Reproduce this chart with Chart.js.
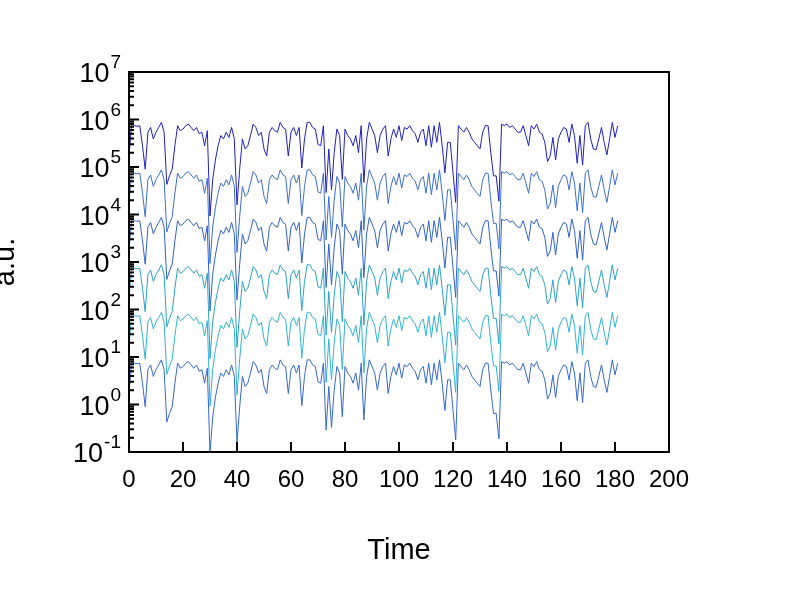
<!DOCTYPE html>
<html>
<head>
<script src="https://cdn.jsdelivr.net/npm/chart.js@4"></script>
<style>body{margin:0;background:#fff}</style>
</head>
<body>
<canvas id="chart" width="800" height="600"></canvas>
<script>
// bottom trace (decade 10^0..10^1); the others repeat it one decade higher each
const base = [1.7,8,7.4,7.2,7.4,2.8,0.9,5.4,6.8,3.9,5.4,6.8,8.7,5.4,0.43,0.65,0.9,2.8,7.4,5.8,
  6.3,7.4,8,6.8,5.8,6.8,5,5.4,2.8,5.8,0.093,0.55,1.4,2.8,4.6,3.9,5.4,4.2,6.8,3.9,
  0.16,0.9,3.9,2.4,2.8,4.6,8,6.8,4.6,5.4,2.4,1.7,5.4,6.8,5.8,5.4,8.7,6.8,6.3,1.7,
  5.4,6.8,4.6,6.8,0.95,3.9,8.7,8.7,6.8,6.3,3,2.8,7.4,0.29,2.4,0.33,2,6.3,4.6,0.55,
  6.3,4.6,3.9,2.8,4.6,2,7.4,0.47,3.9,8.7,6.3,4.6,2,4.6,6.3,7.4,1.7,3.9,6.3,4.2,
  7.4,3.6,6.8,6.3,7.4,5.8,5,3.3,5.4,6.3,2.8,7.4,2.6,7.4,3.3,8.7,2.8,0.75,3.3,3.3,
  0.75,0.18,7.4,6.3,5.4,6.8,5.4,3.9,3.3,2.8,2.4,5.4,7.4,7.4,2,0.65,0.65,0.19,8,7.4,
  8,6.8,7.4,6.3,5.4,5.4,7.4,4.6,2.8,7.4,6.3,8,5.4,5,3.3,1.3,1.7,4.2,1.4,3.9,
  5.4,6.8,6.3,3.3,8,4.6,1.2,4.6,1.1,7.4,8.7,3.9,2.4,2.3,3.9,6.8,3.3,1.8,3.9,8.7,
  4.2,7.4];
const decades = [100000, 10000, 1000, 100, 10, 1];
const colors = ['#1f1fc4', '#3a6fd2', '#2f62cf', '#2aa3c9', '#30b3d6', '#3368d4'];
const xTicks = [0, 20, 40, 60, 80, 100, 120, 140, 160, 180, 200];
const yExponents = [-1, 0, 1, 2, 3, 4, 5, 6, 7];

const datasets = decades.map((d, i) => ({
  data: base.map((v, x) => ({x: x, y: v * d})),
  borderColor: colors[i], borderWidth: 1, pointRadius: 0, fill: false, tension: 0
}));

const frame = {
  id: 'frame',
  afterDraw(chart) {
    const {ctx, chartArea: a, scales: {x, y}} = chart;
    ctx.save();
    ctx.strokeStyle = '#000'; ctx.lineWidth = 2;
    ctx.strokeRect(a.left, a.top, a.right - a.left, a.bottom - a.top);
    ctx.beginPath();
    xTicks.forEach(t => { const px = x.getPixelForValue(t); ctx.moveTo(px, a.bottom); ctx.lineTo(px, a.bottom - 10); });
    yExponents.forEach(e => {
      const py = y.getPixelForValue(Math.pow(10, e));
      ctx.moveTo(a.left, py); ctx.lineTo(a.left + 10, py);
      if (e < 7) for (let m = 2; m < 10; m++) {
        const pm = y.getPixelForValue(m * Math.pow(10, e));
        ctx.moveTo(a.left, pm); ctx.lineTo(a.left + 5, pm);
      }
    });
    ctx.stroke();
    ctx.fillStyle = '#000'; ctx.textBaseline = 'alphabetic'; ctx.textAlign = 'right';
    yExponents.forEach(e => {
      const py = y.getPixelForValue(Math.pow(10, e));
      ctx.font = '19px Arial, "Liberation Sans"';
      const ew = ctx.measureText(String(e)).width;
      ctx.fillText(String(e), a.left - 8, py - 4);
      ctx.font = '27px Arial, "Liberation Sans"';
      ctx.fillText('10', a.left - 9 - ew, py + 10);
    });
    ctx.font = '29px Arial, "Liberation Sans"';
    ctx.translate(14, 262); ctx.rotate(-Math.PI / 2);
    ctx.textAlign = 'center';
    ctx.fillText('a.u.', 0, 0);
    ctx.restore();
  }
};

new Chart(document.getElementById('chart'), {
  type: 'line',
  data: {datasets},
  options: {
    responsive: false, animation: false,
    layout: {padding: {top: 72, right: 131, left: 0, bottom: 0}},
    plugins: {legend: {display: false}, tooltip: {enabled: false}},
    scales: {
      x: {
        type: 'linear', min: 0, max: 200,
        afterBuildTicks: s => { s.ticks = xTicks.map(v => ({value: v})); },
        afterFit: s => { s.height = 148; },
        grid: {display: false}, border: {display: false},
        ticks: {color: '#000', font: {size: 24, family: 'Arial, "Liberation Sans"'}, padding: 6, maxRotation: 0},
        title: {display: true, text: 'Time', color: '#000', font: {size: 29, family: 'Arial, "Liberation Sans"'}, padding: {top: 36, bottom: 32}}
      },
      y: {
        type: 'logarithmic', min: 0.1, max: 1e7,
        afterFit: s => { s.width = 129; },
        grid: {display: false}, border: {display: false},
        ticks: {callback: () => ''}
      }
    }
  },
  plugins: [frame]
});
</script>
</body>
</html>
